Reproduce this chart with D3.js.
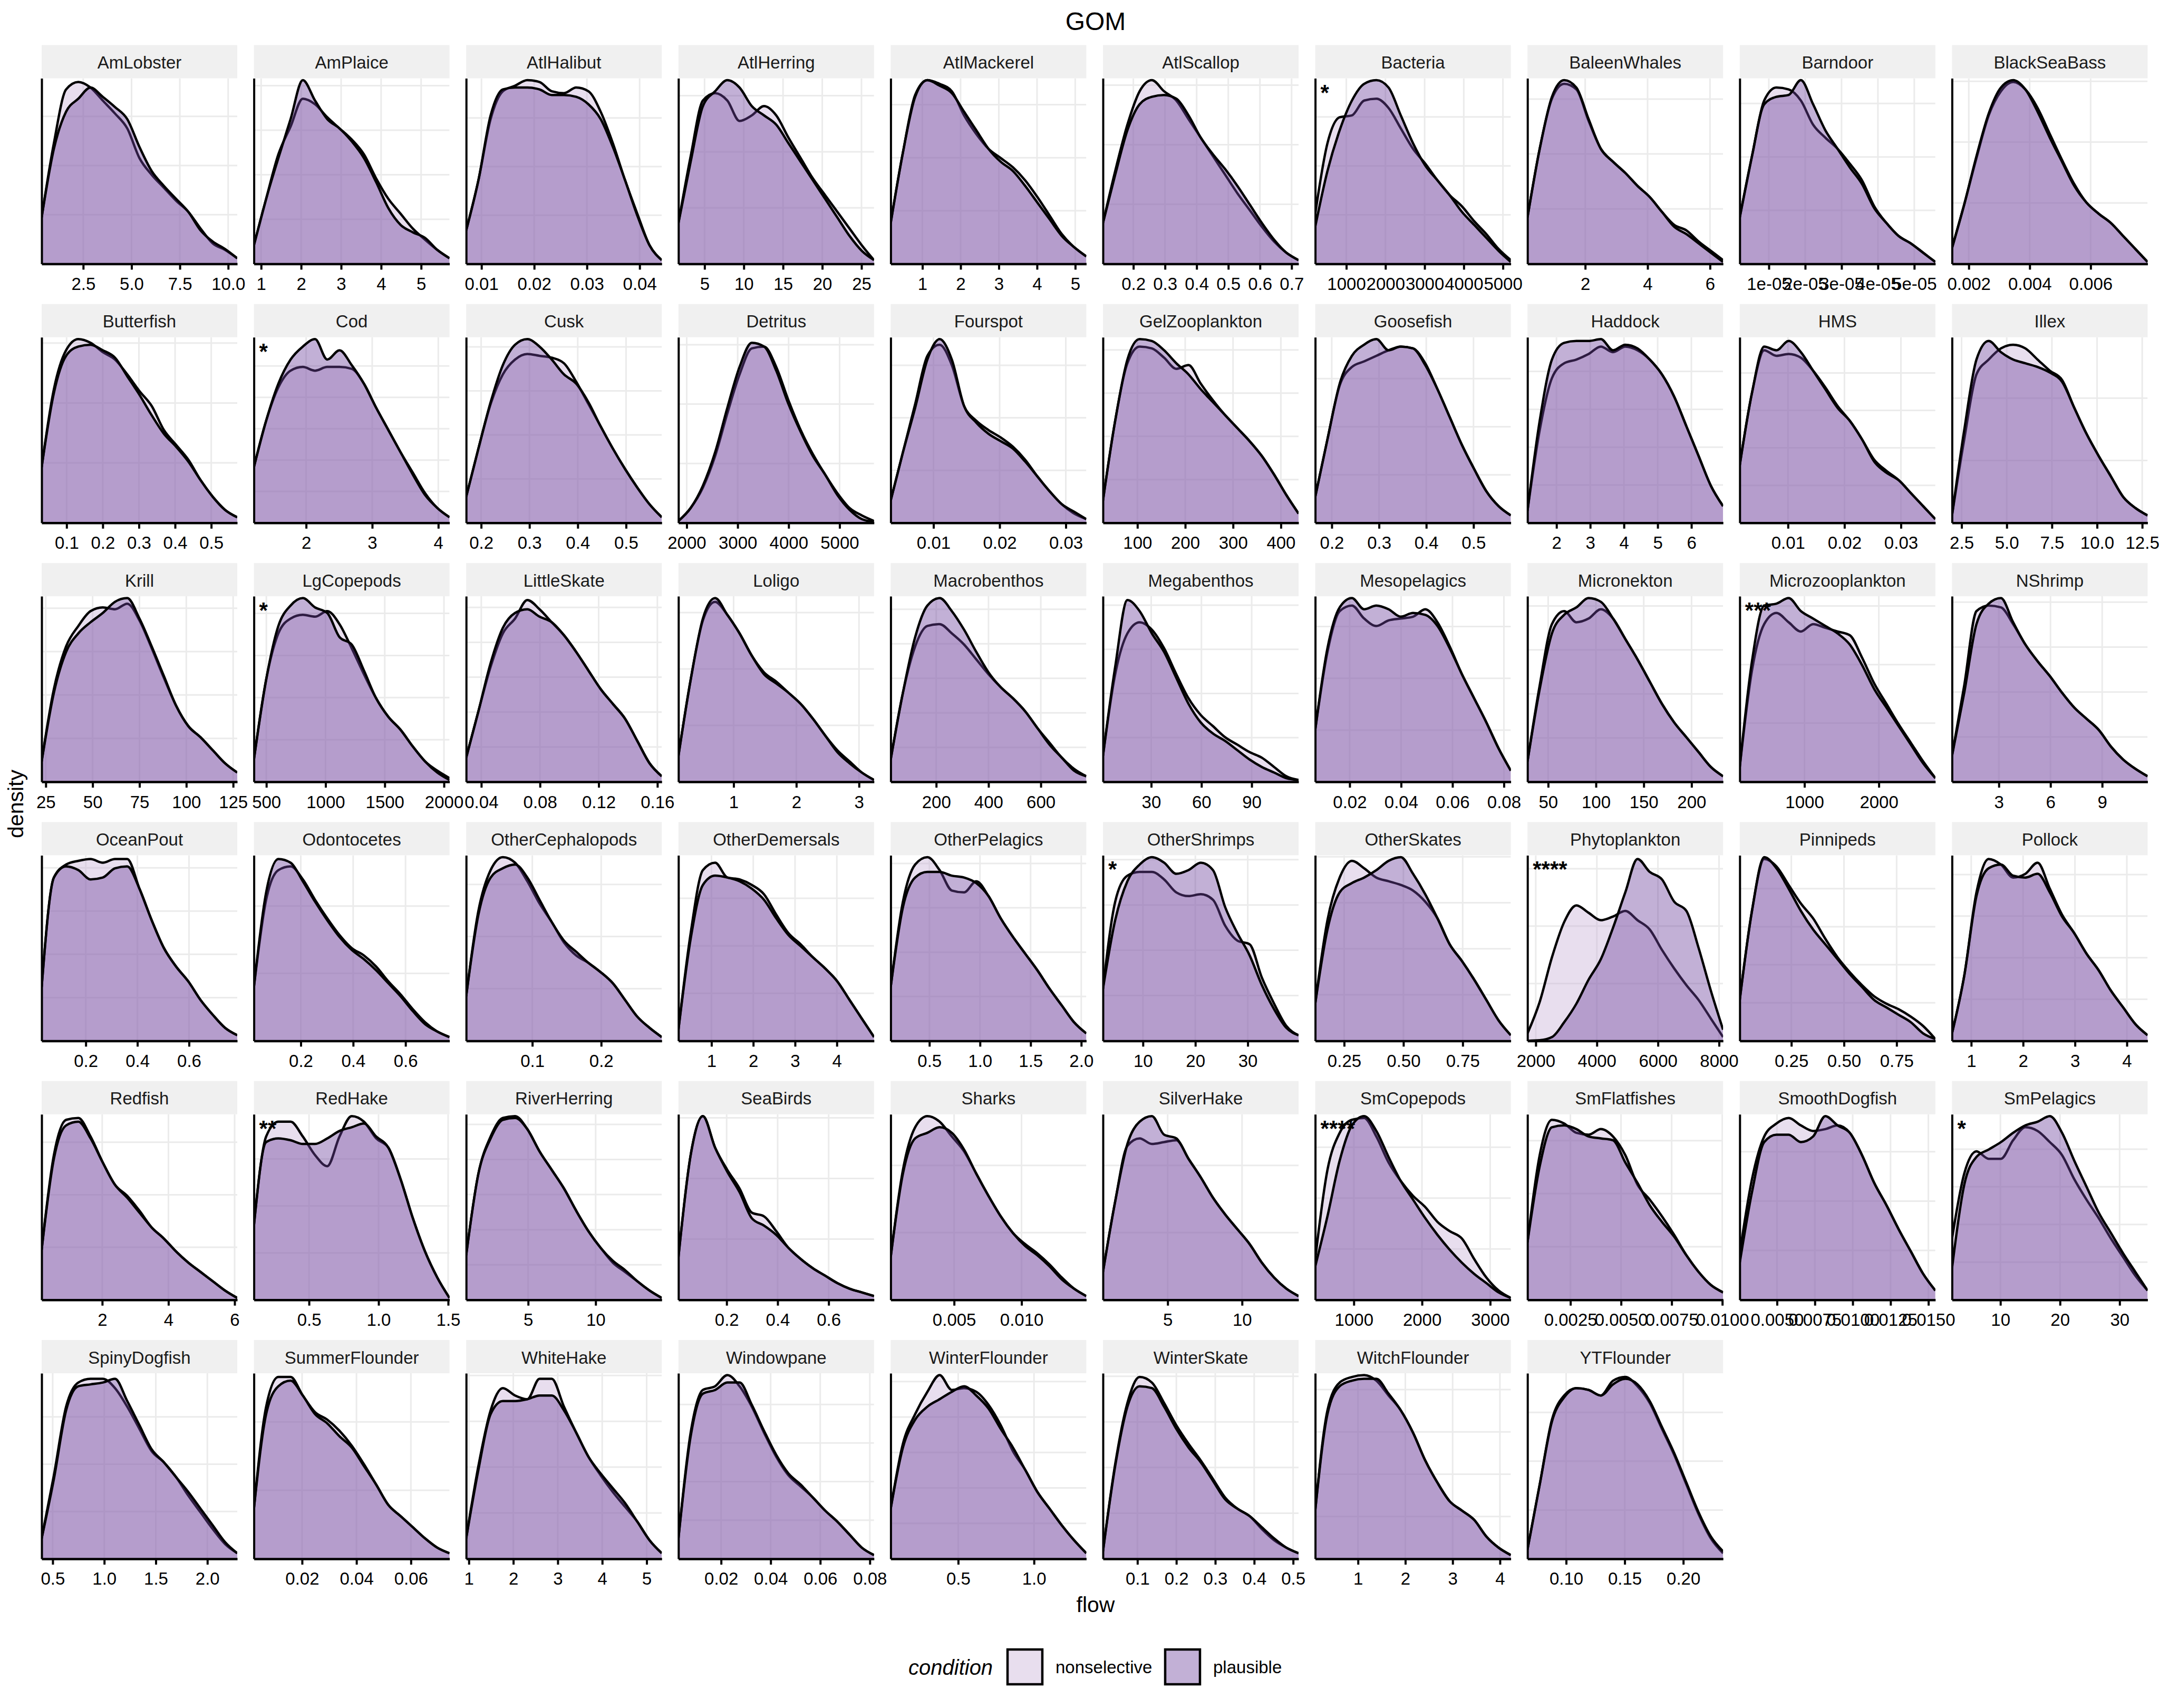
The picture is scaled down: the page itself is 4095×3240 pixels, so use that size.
<!DOCTYPE html>
<html>
<head>
<meta charset="utf-8">
<script src="https://cdn.jsdelivr.net/npm/d3@7"></script>
<style>
  body { margin: 0; background: #fff; }
  text { font-family: "Liberation Sans", Arial, Helvetica, sans-serif; }
</style>
</head>
<body>
<svg width="4095" height="3240"></svg>
<script>
// ---- data ----
const species = [
  "AmLobster","AmPlaice","AtlHalibut","AtlHerring","AtlMackerel","AtlScallop","Bacteria","BaleenWhales","Barndoor","BlackSeaBass",
  "Butterfish","Cod","Cusk","Detritus","Fourspot","GelZooplankton","Goosefish","Haddock","HMS","Illex",
  "Krill","LgCopepods","LittleSkate","Loligo","Macrobenthos","Megabenthos","Mesopelagics","Micronekton","Microzooplankton","NShrimp",
  "OceanPout","Odontocetes","OtherCephalopods","OtherDemersals","OtherPelagics","OtherShrimps","OtherSkates","Phytoplankton","Pinnipeds","Pollock",
  "Redfish","RedHake","RiverHerring","SeaBirds","Sharks","SilverHake","SmCopepods","SmFlatfishes","SmoothDogfish","SmPelagics",
  "SpinyDogfish","SummerFlounder","WhiteHake","Windowpane","WinterFlounder","WinterSkate","WitchFlounder","YTFlounder"
];

const signif = [
  "","","","","","","*","","","",
  "","*","","","","","","","","",
  "","*","","","","","","","***","",
  "","","","","","*","","****","","",
  "","**","","","","","****","","","*",
  "","","","","","","",""
];

const xDomains = [
  [0.35,10.47],[0.82,5.71],[0.0071,0.0442],[1.67,26.6],[0.17,5.29],[0.104,0.722],[206,5202],[0.15,6.42],[2.0e-6,5.58e-5],[0.00145,0.00787],
  [0.031,0.572],[1.21,4.17],[0.169,0.574],[1838,5676],[0.00354,0.0331],[28,437],[0.165,0.579],[1.14,6.94],[0.00146,0.0361],[1.97,12.8],
  [22.8,127.2],[395,2047],[0.0297,0.163],[0.12,3.24],[26,774],[1.2,118],[0.0066,0.0827],[28.4,233],[130,2760],[0.28,11.64],
  [0.029,0.787],[0.021,0.768],[0.004,0.288],[0.21,4.89],[0.118,2.05],[2.37,39.7],[0.128,0.953],[1729,8133],[0.005,0.934],[0.63,4.4],
  [0.17,6.08],[0.104,1.51],[0.41,14.9],[0.011,0.778],[0.0003,0.0148],[0.65,13.8],[434,3303],[0.00038,0.01004],[0.00254,0.01546],[1.88,34.7],
  [0.393,2.29],[0.0023,0.0742],[0.94,5.34],[0.0028,0.0817],[0.055,1.345],[0.0115,0.514],[0.096,4.23],[0.067,0.234]
];

const xTicks = [
  ["2.5","5.0","7.5","10.0"],["1","2","3","4","5"],["0.01","0.02","0.03","0.04"],["5","10","15","20","25"],["1","2","3","4","5"],
  ["0.2","0.3","0.4","0.5","0.6","0.7"],["1000","2000","3000","4000","5000"],["2","4","6"],["1e-05","2e-05","3e-05","4e-05","5e-05"],["0.002","0.004","0.006"],
  ["0.1","0.2","0.3","0.4","0.5"],["2","3","4"],["0.2","0.3","0.4","0.5"],["2000","3000","4000","5000"],["0.01","0.02","0.03"],
  ["100","200","300","400"],["0.2","0.3","0.4","0.5"],["2","3","4","5","6"],["0.01","0.02","0.03"],["2.5","5.0","7.5","10.0","12.5"],
  ["25","50","75","100","125"],["500","1000","1500","2000"],["0.04","0.08","0.12","0.16"],["1","2","3"],["200","400","600"],
  ["30","60","90"],["0.02","0.04","0.06","0.08"],["50","100","150","200"],["1000","2000"],["3","6","9"],
  ["0.2","0.4","0.6"],["0.2","0.4","0.6"],["0.1","0.2"],["1","2","3","4"],["0.5","1.0","1.5","2.0"],
  ["10","20","30"],["0.25","0.50","0.75"],["2000","4000","6000","8000"],["0.25","0.50","0.75"],["1","2","3","4"],
  ["2","4","6"],["0.5","1.0","1.5"],["5","10"],["0.2","0.4","0.6"],["0.005","0.010"],
  ["5","10"],["1000","2000","3000"],["0.0025","0.0050","0.0075","0.0100"],["0.0050","0.0075","0.0100","0.0125","0.0150"],["10","20","30"],
  ["0.5","1.0","1.5","2.0"],["0.02","0.04","0.06"],["1","2","3","4","5"],["0.02","0.04","0.06","0.08"],["0.5","1.0"],
  ["0.1","0.2","0.3","0.4","0.5"],["1","2","3","4"],["0.10","0.15","0.20"]
];

// spacing of the density grid lines, in percent of panel height
const yGridStep = [
  26.5,24,26.2,30.2,28.6,32.1,26.4,29.6,28.8,32.8,
  32.3,16.9,23.7,32,28.3,23.3,25.9,20.4,20.2,33.6,
  23.4,22.7,18.8,30.4,18.6,23.8,27.9,23.7,31.6,24.2,
  23.3,36.3,28.1,25.6,23.9,24.4,24.8,30.9,20.5,22.4,
  28.3,25.3,18.9,32.7,36.2,36.2,27.4,28.6,26.6,20.3,
  25.5,36.9,24.7,20.8,19.1,24.6,22.8,26.3
];

// density, % of panel height, at 17 evenly spaced points across each panel's x range
const nonselective = [
  [25,65,94,98,95,88,81,73,57,48,41,34,28,19,11,7.5,3],
  [10,35,59,74,89,86,79,73,67,59,46,35,27,19,13,7.5,3],
  [18,45,78,93,96,99,98,93,92,95,93,82,65,45,27,10,2],
  [22,58,88,92,88,77,80,85,80,68,57,46,37,28,19,10,2],
  [22,60,91,99,97,93,80,70,62,57,52,45,36,26,16,9,4],
  [22,50,75,93,99,93,88,78,68,58,48,38,29,20,12,6,2],
  [27,65,79,80,88,89,84,73,62,54,45,37,31,23,16,8,2],
  [25,62,89,97,94,77,62,55,49,42,36,28,21,18,12,7,2],
  [25,58,88,95,94,88,75,68,62,54,45,31,22,15,11,6,1],
  [8.5,32,57,80,93,98,94,84,70,56,43,33,27,22,15,8,1],
  [30,72,93,99,97,92,88,80,71,63,50,42,34,23,14,7,3],
  [30,55,73,82,84,82,84,84,83,75,62,50,38,27,16,8,3],
  [14,40,64,80,88,91,90,89,86,76,64,52,40,29,19,10,3],
  [1,8,19,36,59,80,94,95,84,66,50,37,26,16,8,4,1],
  [12,38,64,90,96,85,63,55,50,46,41,34,25,17,10,5,2],
  [12,55,86,95,94,89,83,85,75,66,58,51,44,36,26,15,5],
  [14,45,74,84,87,90,93,95,94,86,72,57,42,29,17,9,4],
  [6.5,50,78,86,88,91,95,92,95,93,88,80,68,52,36,20,9],
  [31,70,93,90,91,89,82,73,63,55,45,34,28,23,16,9,2],
  [4,45,80,88,94,96,94,88,82,77,62,48,36,25,14,8,4],
  [11,50,73,84,92,94,93,96,87,72,56,41,30,24,17,10,5],
  [12,55,80,88,90,89,92,85,72,58,45,35,28,19,11,6,2],
  [13,38,62,80,88,98,93,86,79,70,60,50,42,34,22,10,3],
  [14,55,87,97,90,80,68,59,54,48,42,34,25,17,11,5,1],
  [12,48,73,84,85,80,74,66,58,51,45,38,29,21,13,7,3],
  [14,58,80,86,82,72,58,45,36,30,24,20,16,13,8,3,1],
  [28,70,92,95,88,84,87,88,89,93,86,73,58,45,32,18,6],
  [11,52,85,92,86,88,93,88,77,66,54,42,32,24,16,8,3],
  [8,60,85,91,86,81,85,83,81,79,67,53,42,31,21,11,2],
  [14,52,92,95,94,85,74,65,57,48,40,34,28,19,12,7,3],
  [29,88,95,97,98,96,98,98,82,65,50,40,32,22,14,7,3],
  [29,76,92,94,87,76,66,57,50,46,40,32,25,17,10,5,2],
  [24,70,92,99,96,86,74,64,53,46,42,37,31,22,13,7,2],
  [6,58,92,96,88,87,84,79,68,58,52,45,39,32,22,12,2],
  [29,75,95,99,92,81,80,86,78,66,56,47,38,28,19,10,4],
  [28,75,89,91,91,87,80,78,79,76,62,54,52,34,20,8,3],
  [20,65,88,97,93,88,86,84,81,75,66,52,43,33,22,11,3],
  [4,21,45,64,73,69,65,67,70,65,60,49,39,30,22,12,2],
  [22,70,98,94,84,74,66,55,45,37,30,24,20,17,13,8,1],
  [4,35,80,98,95,88,90,96,82,68,58,47,38,27,18,9,3],
  [27,78,97,98,88,74,62,56,48,39,33,26,20,15,10,5,1],
  [40,88,96,96,88,78,72,88,99,96,87,82,65,44,26,12,1],
  [24,68,88,98,99,92,80,70,60,48,37,28,20,15,10,5,1],
  [23,78,99,82,70,60,47,45,37,28,22,17,13,9,6,4,2],
  [23,70,93,99,96,88,80,68,56,45,36,30,25,19,12,6,2],
  [15,53,83,87,84,85,86,76,66,55,46,38,30,20,12,6,2],
  [22,70,90,97,98,88,74,64,56,50,42,37,33,22,12,5,1],
  [31,78,97,95,90,89,92,88,78,62,54,45,35,24,15,8,4],
  [25,65,88,95,98,94,91,92,94,90,78,63,51,38,26,14,5],
  [33,68,80,76,76,86,93,91,85,78,65,54,44,33,23,13,5],
  [11,45,82,95,97,97,92,82,70,58,52,44,34,25,16,8,3],
  [27,82,98,98,88,79,75,69,61,51,40,29,23,17,11,6,3],
  [11,50,80,92,88,86,97,97,82,68,55,45,36,28,20,10,3],
  [11,68,91,93,99,93,82,68,55,45,39,33,26,20,13,6,2],
  [27,62,78,90,99,91,92,90,83,72,58,48,36,27,18,10,3],
  [4,51,84,98,95,84,72,62,53,43,33,27,23,16,10,6,3],
  [26,80,95,98,99,96,88,80,68,53,41,31,26,21,12,6,2],
  [5,40,75,88,92,91,88,96,98,93,84,70,56,40,24,11,3]
];

const plausible = [
  [25,62,82,89,95,90,84.5,78,63,50,42,35,28,18,12,8,3],
  [10,35,57,78,99,88,78,73,66,57,44,30,21,17,14,7.5,3],
  [18,45,80,94,95,95,94,91,91,90,86,78,63,45,26,10,2],
  [22,55,85,93,99,95,85,80,75,65,55,45,35,25,15,7,2],
  [22,60,90,99,96,92,82,72,62,55,50,42,33,24,15,9,4],
  [22,48,72,86,90,91,89,80,68,59,51,42,32,22,13,6,2],
  [20,50,72,88,97,99,95,80,65,53,45,37,28,21,14,7,1],
  [25,62,90,99,95,78,62,55,49,42,36,28,20,16,11,6,1],
  [25,58,86,90,91,99,86,72,62,52,43,30,22,15,11,6,1],
  [8.5,32,58,81,95,99,94,82,68,55,42,33,27,22,15,8,1],
  [30,70,90,95,96,93,89,79,69,58,48,41,33,23,14,7,3],
  [30,55,75,88,95,99,88,93,85,75,62,50,38,26,15,8,3],
  [14,40,65,85,96,99,95,88,80,75,65,52,40,29,19,10,3],
  [1,8,20,38,62,84,97,95,82,64,49,36,26,15,7,2,0.5],
  [12,38,62,88,99,88,63,54,48,44,40,33,25,17,10,6,2],
  [12,55,88,99,98,93,86,80,72,65,58,51,44,36,26,15,5],
  [14,45,75,90,96,99,93,95,94,85,72,57,42,29,17,9,4],
  [6.5,55,88,97,98,98,99,93,96,94,88,80,68,52,36,20,9],
  [31,70,95,93,98,92,82,72,62,55,45,33,27,23,16,9,2],
  [4,50,88,98,92,88,86,84,81,76,62,48,36,25,14,8,4],
  [11,48,70,80,86,91,97,99,88,73,57,41,30,24,17,10,5],
  [12,55,84,95,99,94,91,78,74,60,45,35,28,19,11,5,1],
  [13,38,64,83,91,93,89,86,79,70,60,50,42,34,22,10,3],
  [14,55,88,99,90,80,68,58,53,48,42,34,25,16,10,5,1],
  [12,48,78,95,99,92,82,70,59,51,45,38,29,20,13,6,3],
  [14,62,98,92,80,70,56,42,32,26,22,17,12,8,5,2,1],
  [28,72,94,99,93,95,93,89,91,90,84,72,58,45,32,18,6],
  [11,50,80,90,94,99,97,88,77,66,54,42,32,24,16,8,3],
  [8,65,95,96,99,92,88,84,80,74,63,50,40,30,20,10,2],
  [14,48,85,96,99,86,74,65,57,48,40,34,28,19,12,7,3],
  [29,88,94,92,87,88,93,94,82,65,50,40,32,22,14,7,3],
  [29,80,98,96,86,75,65,56,49,44,38,31,24,16,9,5,2],
  [24,68,88,93,95,88,76,64,54,48,42,37,31,22,13,7,2],
  [6,55,84,89,88,86,82,76,66,57,51,45,39,32,22,12,2],
  [29,72,88,91,91,89,88,85,78,66,56,47,38,28,19,10,4],
  [28,65,86,95,99,96,90,92,96,92,72,58,46,30,17,7,3],
  [20,60,80,85,88,92,97,99,90,79,66,52,43,33,22,11,3],
  [0,0.3,2,10,20,33,44,61,80,98,91,87,75,70,50,27,6],
  [22,70,99,93,82,70,60,52,44,36,29,22,18,14,10,4,1],
  [4,35,78,93,95,89,88,90,80,67,58,47,38,27,18,9,3],
  [27,76,94,96,87,74,62,55,47,39,33,26,20,15,10,5,1],
  [40,85,87,86,84,84,87,91,93,95,88,82,65,44,26,12,1],
  [24,68,87,97,98,92,80,70,60,48,37,28,21,16,10,5,1],
  [23,78,99,82,69,58,44,40,35,28,22,17,13,9,6,4,2],
  [23,68,87,90,93,90,81,68,56,45,36,29,24,18,11,6,2],
  [15,53,84,96,99,89,87,76,66,55,46,38,30,20,12,6,2],
  [18,45,75,94,99,91,77,64,54,44,35,27,20,14,9,4,1],
  [31,72,93,94,92,88,87,86,74,63,51,42,34,24,15,8,4],
  [20,58,85,89,89,85,88,99,94,90,78,63,51,38,26,14,5],
  [17,62,77,81,85,90,94,96,99,90,75,61,47,36,25,15,5],
  [11,43,80,93,94,95,97,85,72,59,52,44,36,27,18,9,3],
  [27,78,93,96,88,78,73,66,60,50,40,29,23,17,11,6,3],
  [11,48,78,85,85,86,88,88,80,68,55,46,38,30,20,10,3],
  [11,66,89,91,95,95,83,69,56,46,40,33,26,20,13,6,2],
  [27,60,75,82,86,90,93,88,81,70,60,48,36,27,18,10,3],
  [4,50,82,93,92,82,70,60,52,42,32,27,23,17,11,6,3],
  [26,78,93,96,97,97,89,80,68,53,41,31,26,21,12,6,2],
  [5,40,74,87,92,91,88,94,97,94,85,71,57,41,25,12,4]
];

const conditions = ["nonselective", "plausible"];
const fills = { nonselective: "#C8B0D7", plausible: "#6E439D" };

// ---- layout ----
const svg = d3.select("svg");
const nCol = 10;
const left0 = 79, colStep = 402.6, panelW = 371;
const top0 = 85.5, rowStep = 491.3, stripH = 63, plotH = 352;
const nPts = 17;

svg.append("rect").attr("width", 4095).attr("height", 3240).attr("fill", "#fff");

// Title
svg.append("text")
  .attr("x", 2078).attr("y", 57)
  .attr("text-anchor", "middle")
  .attr("font-size", 48)
  .text("GOM");

const area = d3.area().curve(d3.curveMonotoneX);
const line = d3.line().curve(d3.curveMonotoneX);

species.forEach((name, i) => {
  const col = i % nCol, row = Math.floor(i / nCol);
  const x0 = left0 + col * colStep;
  const stripTop = top0 + row * rowStep;
  const plotTop = stripTop + stripH;
  const plotBottom = plotTop + plotH;
  const dom = xDomains[i];

  const x = d3.scaleLinear().domain(dom).range([x0, x0 + panelW]);
  const y = d3.scaleLinear().domain([0, 100]).range([plotBottom, plotTop]);
  const xs = d3.range(nPts).map(k => dom[0] + k / (nPts - 1) * (dom[1] - dom[0]));
  const tickVals = xTicks[i].map(s => +s);

  const g = svg.append("g").attr("class", "panel");

  // strip
  g.append("rect")
    .attr("x", x0).attr("y", stripTop)
    .attr("width", panelW).attr("height", stripH)
    .attr("fill", "#F0F0F0");
  g.append("text")
    .attr("x", x0 + panelW / 2).attr("y", stripTop + stripH / 2 + 13)
    .attr("text-anchor", "middle")
    .attr("font-size", 33)
    .attr("fill", "#1a1a1a")
    .text(name);

  // clip
  const clipId = "clip" + i;
  g.append("clipPath").attr("id", clipId)
    .append("rect")
    .attr("x", x0).attr("y", plotTop)
    .attr("width", panelW).attr("height", plotH);

  const body = g.append("g").attr("clip-path", `url(#${clipId})`);

  // grid
  body.selectAll(".vgrid")
    .data(tickVals)
    .join("line")
    .attr("x1", d => x(d)).attr("x2", d => x(d))
    .attr("y1", plotTop).attr("y2", plotBottom)
    .attr("stroke", "#EBEBEB").attr("stroke-width", 3);
  body.selectAll(".hgrid")
    .data(d3.range(yGridStep[i], 100, yGridStep[i]))
    .join("line")
    .attr("x1", x0).attr("x2", x0 + panelW)
    .attr("y1", d => y(d)).attr("y2", d => y(d))
    .attr("stroke", "#EBEBEB").attr("stroke-width", 3);

  // densities: nonselective first, plausible on top
  [nonselective[i], plausible[i]].forEach((vals, c) => {
    const pts = vals.map((v, k) => [x(xs[k]), y(v)]);
    area.x(d => d[0]).y0(y(0)).y1(d => d[1]);
    body.append("path")
      .attr("d", area(pts))
      .attr("fill", fills[conditions[c]])
      .attr("fill-opacity", 0.42);
    body.append("path")
      .attr("d", line(pts))
      .attr("fill", "none")
      .attr("stroke", "#000")
      .attr("stroke-width", 4.5);
  });

  // axes
  const xAxis = g.append("g")
    .attr("transform", `translate(0,${plotBottom})`)
    .call(d3.axisBottom(x)
      .tickValues(tickVals)
      .tickFormat((d, j) => xTicks[i][j])
      .tickSizeInner(11).tickSizeOuter(0).tickPadding(15));
  xAxis.select(".domain").attr("stroke", "#000").attr("stroke-width", 4.5);
  xAxis.selectAll(".tick line").attr("stroke", "#000").attr("stroke-width", 4);
  xAxis.selectAll(".tick text")
    .attr("font-size", 33)
    .attr("font-family", "Liberation Sans, Arial, sans-serif")
    .attr("fill", "#000");

  const yAxis = g.append("g")
    .attr("transform", `translate(${x0},0)`)
    .call(d3.axisLeft(y).tickValues([]).tickSizeOuter(0));
  yAxis.select(".domain").attr("stroke", "#000").attr("stroke-width", 4);

  // significance label
  if (signif[i]) {
    g.append("text")
      .attr("x", x0 + 10).attr("y", plotTop + 41)
      .attr("font-size", 42)
      .attr("font-weight", "bold")
      .text(signif[i]);
  }
});

// axis titles
svg.append("text")
  .attr("x", 2078).attr("y", 3058)
  .attr("text-anchor", "middle")
  .attr("font-size", 41)
  .text("flow");

svg.append("text")
  .attr("transform", "translate(44,1525) rotate(-90)")
  .attr("text-anchor", "middle")
  .attr("font-size", 41)
  .text("density");

// legend
const legend = svg.append("g");
legend.append("text")
  .attr("x", 1723).attr("y", 3177)
  .attr("font-size", 40)
  .attr("font-style", "italic")
  .text("condition");

const keyX = [1911, 2210];
const labX = [2002, 2301];
conditions.forEach((c, k) => {
  legend.append("rect")
    .attr("x", keyX[k]).attr("y", 3129)
    .attr("width", 66).attr("height", 66)
    .attr("fill", "#fff");
  legend.append("rect")
    .attr("x", keyX[k]).attr("y", 3129)
    .attr("width", 66).attr("height", 66)
    .attr("fill", fills[c]).attr("fill-opacity", 0.42)
    .attr("stroke", "#000").attr("stroke-width", 4.5);
  legend.append("text")
    .attr("x", labX[k]).attr("y", 3174)
    .attr("font-size", 33)
    .text(c);
});
</script>
</body>
</html>
